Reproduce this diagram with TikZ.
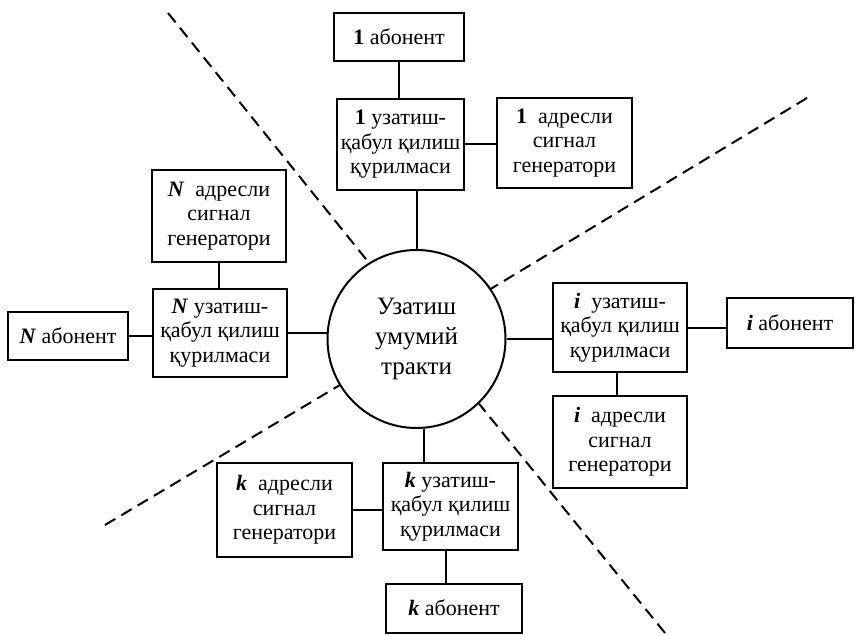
\documentclass[tikz,border=0pt]{standalone}
\usepackage{fontspec}
\setmainfont{Liberation Serif}
\usetikzlibrary{calc}
\tikzset{
  box/.style={draw, line width=2pt, inner sep=0pt, align=center,
    font=\fontsize{22}{24.5}\selectfont},
  conn/.style={line width=2pt},
  dashline/.style={line width=2pt, dash pattern=on 12pt off 7pt},
  hub/.style={draw, circle, line width=2pt, minimum size=178pt, inner sep=0pt,
    align=center, font=\fontsize{25}{30}\selectfont}
}
\newcommand{\bi}[1]{\textbf{\textit{#1}}}
\begin{document}
\begin{tikzpicture}[x=1pt, y=-1pt]
\useasboundingbox (0,0) rectangle (859,636);
% hub
\node[hub] (circ) at (416.5,339) {Узатиш\\умумий\\тракти};
% branch 1 (top)
\node[box, minimum width=130pt, minimum height=48pt] (ab1) at (399,37) {\textbf{1} абонент};
\node[box, minimum width=127pt, minimum height=91pt] (uz1) at (400.5,144.5) {\textbf{1} узатиш-\\қабул қилиш\\қурилмаси};
\node[box, minimum width=135pt, minimum height=90pt] (ad1) at (564.5,143) {\textbf{1}\ \ адресли\\сигнал\\генератори};
% branch N (left)
\node[box, minimum width=134pt, minimum height=92pt] (adN) at (219,216) {\bi{N}\ \ адресли\\сигнал\\генератори};
\node[box, minimum width=134pt, minimum height=88pt] (uzN) at (220,333) {\bi{N} узатиш-\\қабул қилиш\\қурилмаси};
\node[box, minimum width=120pt, minimum height=48pt] (abN) at (68,336) {\bi{N} абонент};
% branch i (right)
\node[box, minimum width=134pt, minimum height=89pt] (uzi) at (620,327.5) {\bi{i}\ \ узатиш-\\қабул қилиш\\қурилмаси};
\node[box, minimum width=126pt, minimum height=50pt] (abi) at (790,323) {\bi{i} абонент};
\node[box, minimum width=134pt, minimum height=92pt] (adi) at (620,442) {\bi{i}\ \ адресли\\сигнал\\генератори};
% branch k (bottom)
\node[box, minimum width=135pt, minimum height=94pt] (adk) at (284.5,510) {\bi{k}\ \ адресли\\сигнал\\генератори};
\node[box, minimum width=135pt, minimum height=87pt] (uzk) at (450.5,506.5) {\bi{k} узатиш-\\қабул қилиш\\қурилмаси};
\node[box, minimum width=136pt, minimum height=49pt] (abk) at (454,608) {\bi{k} абонент};
% connectors
\draw[conn] (ab1.south) -- (ab1.south |- uz1.north);
\draw[conn] (circ.north |- uz1.south) -- (circ.north);
\draw[conn] (uz1.east) -- (uz1.east -| ad1.west);
\draw[conn] (adN.south) -- (adN.south |- uzN.north);
\draw[conn] (abN.east) -- (abN.east -| uzN.west);
\draw[conn] (uzN.east) -- (uzN.east -| circ.west);
\draw[conn] (circ.east) -- (circ.east -| uzi.west);
\draw[conn] (uzi.east) -- (uzi.east -| abi.west);
\draw[conn] ($(uzi.south)+(-3,0)$) -- ($(uzi.south |- adi.north)+(-3,0)$);
\draw[conn] (circ.-85) -- (circ.-85 |- uzk.north);
\draw[conn] (adk.east) -- (adk.east -| uzk.west);
\draw[conn] ($(uzk.south)+(-5,0)$) -- ($(uzk.south |- abk.north)+(-5,0)$);
% dashed separators
\coordinate (d1) at (168,13);
\coordinate (d2) at (807,98);
\coordinate (d3) at (105,525);
\coordinate (d4) at (665,633);
\draw[dashline] (d1) -- (circ.122.5);
\draw[dashline] (d2) -- (circ.34);
\draw[dashline] (d3) -- (circ.211);
\draw[dashline] (d4) -- (circ.314);
\end{tikzpicture}
\end{document}
